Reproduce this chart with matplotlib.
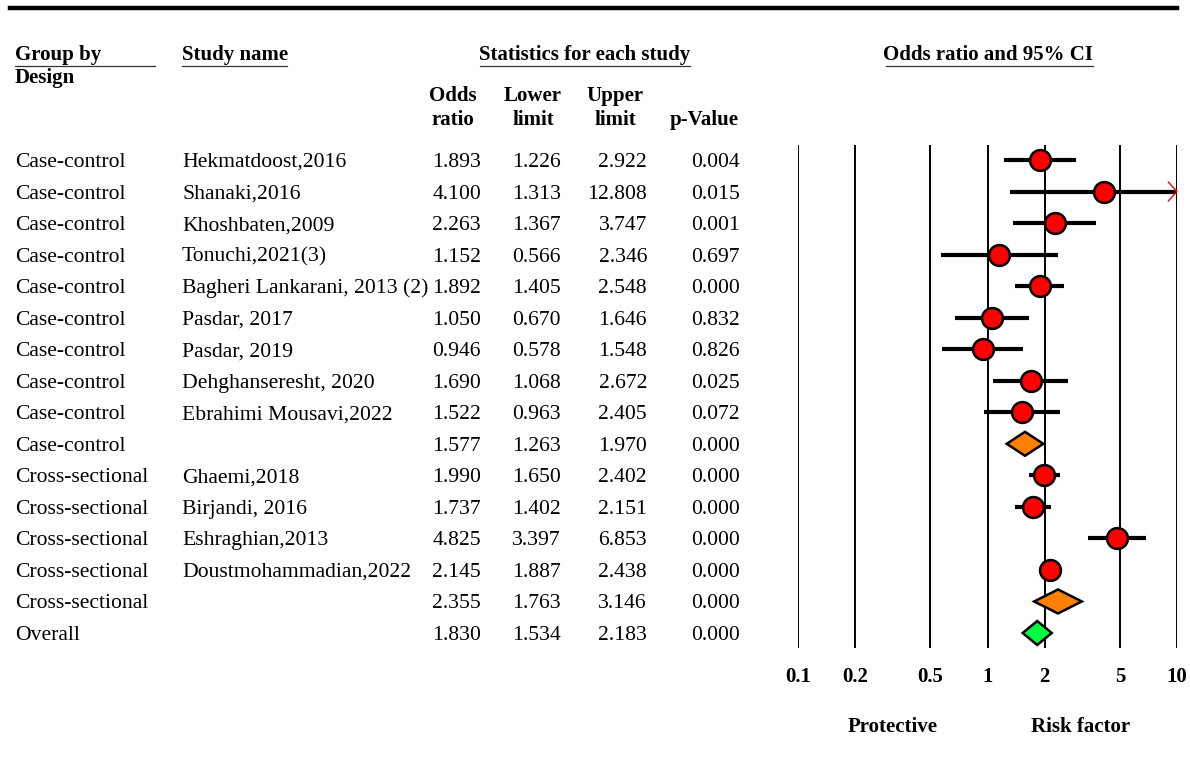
import numpy as np
import matplotlib.pyplot as plt
from matplotlib.lines import Line2D
from matplotlib.transforms import blended_transform_factory

plt.rcParams["font.family"] = ["Liberation Serif", "DejaVu Serif"]

groups = ["Case-control"] * 10 + ["Cross-sectional"] * 5 + ["Overall"]
studies = ["Hekmatdoost,2016", "Shanaki,2016", "Khoshbaten,2009", "Tonuchi,2021(3)",
           "Bagheri Lankarani, 2013 (2)", "Pasdar, 2017", "Pasdar, 2019",
           "Dehghanseresht, 2020", "Ebrahimi Mousavi,2022", "",
           "Ghaemi,2018", "Birjandi, 2016", "Eshraghian,2013", "Doustmohammadian,2022", "",
           ""]
odds = [1.893, 4.100, 2.263, 1.152, 1.892, 1.050, 0.946, 1.690, 1.522, 1.577,
        1.990, 1.737, 4.825, 2.145, 2.355, 1.830]
lower = [1.226, 1.313, 1.367, 0.566, 1.405, 0.670, 0.578, 1.068, 0.963, 1.263,
         1.650, 1.402, 3.397, 1.887, 1.763, 1.534]
upper = [2.922, 12.808, 3.747, 2.346, 2.548, 1.646, 1.548, 2.672, 2.405, 1.970,
         2.402, 2.151, 6.853, 2.438, 3.146, 2.183]
pvals = [0.004, 0.015, 0.001, 0.697, 0.000, 0.832, 0.826, 0.025, 0.072, 0.000,
         0.000, 0.000, 0.000, 0.000, 0.000, 0.000]
# row type: study point, subgroup summary, overall summary
kind = ["study"] * 9 + ["sub"] + ["study"] * 4 + ["sub"] + ["total"]
ticks = [0.1, 0.2, 0.5, 1, 2, 5, 10]
tick_labels = ["0.1", "0.2", "0.5", "1", "2", "5", "10"]

W, H = 1190, 776
fig = plt.figure(figsize=(W / 100, H / 100), dpi=100)


def fx(px):
    return px / W


def fy(py):
    return 1 - py / H


n = len(odds)
row0, row_step = 160, (633 - 160) / (n - 1)
top_px, bot_px = 145, 648
ax = fig.add_axes([fx(798), fy(bot_px), fx(1177) - fx(798), (bot_px - top_px) / H])
ax.set_xscale("log")
ax.set_xlim(0.1, 10)
ax.set_ylim((bot_px - row0) / row_step, (top_px - row0) / row_step)
for s in ax.spines.values():
    s.set_visible(False)
ax.set_yticks([])
ax.set_xticks(ticks)
ax.set_xticklabels(tick_labels, fontweight="bold", fontsize=15)
ax.minorticks_off()
ax.tick_params(axis="x", length=0, pad=14)
for t in ticks:
    ax.axvline(t, color="black", lw=1.4, zorder=1)

colors = {"sub": "#ff8000", "total": "#00ff40"}
for i in range(n):
    if kind[i] == "study":
        hi = min(upper[i], 10)
        ax.plot([lower[i], hi], [i, i], color="black", lw=3, solid_capstyle="butt", zorder=2)
        ax.plot(odds[i], i, "o", ms=15, mfc="red", mec="black", mew=1.8, zorder=3)
        if upper[i] > 10:
            ax.plot([9.0, 10, 9.0], [i - 0.3, i, i + 0.3], color="red", lw=1,
                    clip_on=False, zorder=4)
    else:
        h = 0.38
        ax.fill([lower[i], odds[i], upper[i], odds[i]], [i, i - h, i, i + h],
                facecolor=colors[kind[i]], edgecolor="black", lw=1.8, zorder=3)

# table columns, baseline sits 7 px below the row centre
tr = blended_transform_factory(fig.transFigure, ax.transData)
fs = 15.6
off = 7 / row_step
for i in range(n):
    y = i + off
    fig.text(fx(15), y, groups[i], transform=tr, va="baseline", fontsize=fs)
    fig.text(fx(182), y, studies[i], transform=tr, va="baseline", fontsize=fs)
    fig.text(fx(481), y, f"{odds[i]:.3f}", transform=tr, va="baseline", ha="right", fontsize=fs)
    fig.text(fx(561), y, f"{lower[i]:.3f}", transform=tr, va="baseline", ha="right", fontsize=fs)
    fig.text(fx(647), y, f"{upper[i]:.3f}", transform=tr, va="baseline", ha="right", fontsize=fs)
    fig.text(fx(740), y, f"{pvals[i]:.3f}", transform=tr, va="baseline", ha="right", fontsize=fs)

# headers
hb = dict(fontsize=15, fontweight="bold", va="baseline")
fig.text(fx(15), fy(60), "Group by", **hb)
fig.text(fx(15), fy(83), "Design", **hb)
fig.text(fx(182), fy(60), "Study name", **hb)
fig.text(fx(585), fy(60), "Statistics for each study", ha="center", **hb)
fig.text(fx(988), fy(60), "Odds ratio and 95% CI", ha="center", **hb)
fig.text(fx(453), fy(101), "Odds", ha="center", **hb)
fig.text(fx(453), fy(125), "ratio", ha="center", **hb)
fig.text(fx(533), fy(101), "Lower", ha="center", **hb)
fig.text(fx(533), fy(125), "limit", ha="center", **hb)
fig.text(fx(615), fy(101), "Upper", ha="center", **hb)
fig.text(fx(615), fy(125), "limit", ha="center", **hb)
fig.text(fx(704), fy(125), "p-Value", ha="center", **hb)
fig.text(fx(893), fy(732), "Protective", ha="center", **hb)
fig.text(fx(1081), fy(732), "Risk factor", ha="center", **hb)

# rules
fig.add_artist(Line2D([fx(10), fx(1177)], [fy(8), fy(8)], color="black", lw=3.2))
for x0, x1 in [(15, 155), (182, 287), (480, 690), (886, 1093)]:
    fig.add_artist(Line2D([fx(x0), fx(x1)], [fy(66), fy(66)], color="#333333", lw=0.9))

fig.savefig("out.png", dpi=100)
